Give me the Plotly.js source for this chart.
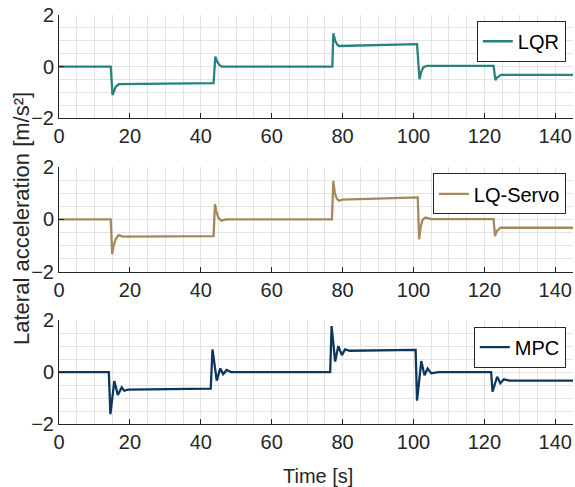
<!DOCTYPE html>
<html>
<head>
<meta charset="utf-8">
<script src="https://cdn.plot.ly/plotly-3.0.1.min.js"></script>
<style>html,body{margin:0;padding:0;background:#fff;}#chart{width:575px;height:487px;}</style>
</head>
<body>
<div id="chart"></div>
<script>
// Time samples and values
var lqrT = [0, 14.6, 15.1, 15.5, 16.0, 16.9, 43.6, 44.1, 44.6, 45.2, 45.9, 77.1, 77.4, 77.9, 78.5, 79.0, 101.0, 101.7, 102.2, 102.8, 103.8, 122.6, 123.1, 123.6, 124.7, 145];
var lqrV = [0, 0, -1.1, -0.95, -0.78, -0.68, -0.64, 0.39, 0.2, 0.07, 0, 0, 1.29, 1.0, 0.85, 0.80, 0.87, -0.49, -0.2, -0.02, 0.03, 0.03, -0.52, -0.42, -0.32, -0.32];

var servoT = [0, 14.6, 15.0, 15.4, 16.0, 16.8, 18, 43.6, 44.0, 44.4, 45.0, 45.8, 47, 77.0, 77.4, 77.8, 78.4, 79.0, 80, 101.2, 101.6, 102.0, 102.6, 103.4, 105, 122.6, 123.0, 123.5, 124.5, 145];
var servoV = [0, 0, -1.32, -1.0, -0.75, -0.6, -0.66, -0.64, 0.58, 0.3, 0.05, -0.05, 0, 0, 1.47, 1.0, 0.78, 0.71, 0.75, 0.84, -0.76, -0.3, 0.0, 0.07, 0.01, 0.01, -0.64, -0.45, -0.32, -0.32];

var mpcT = [0, 14.05, 14.5, 15.6, 16.6, 17.7, 18.4, 19.5, 42.8, 43.3, 44.5, 45.5, 46.3, 47.3, 48.5, 76.5, 76.9, 77.9, 78.8, 79.8, 80.7, 82, 100.6, 101.0, 102.2, 103.1, 104, 105, 107, 121.9, 122.3, 123.6, 124.5, 125.5, 127, 145];
var mpcV = [0, 0, -1.62, -0.35, -0.88, -0.59, -0.72, -0.68, -0.64, 0.87, -0.33, 0.14, -0.08, 0.08, 0, 0, 1.77, 0.40, 1.0, 0.65, 0.87, 0.82, 0.85, -1.10, 0.42, -0.12, 0.14, -0.05, 0, 0, -0.76, -0.18, -0.43, -0.28, -0.33, -0.33];

var seriesNames = ['LQR', 'LQ-Servo', 'MPC'];
var xTicks = [0, 20, 40, 60, 80, 100, 120, 140];
var yTicks = [-2, 0, 2];
var yAxisTitle = 'Lateral acceleration [m/s²]';
var xAxisTitle = 'Time [s]';

var colors = ['#26837d', '#a6885a', '#0c3860'];
var FONT = 'Liberation Sans, Arial, Helvetica, sans-serif';
var axisCol = '#262626';
var gridCol = '#e3e3e3';

var traces = [
  {x: lqrT, y: lqrV, name: seriesNames[0], type: 'scatter', mode: 'lines', line: {color: colors[0], width: 2.3}, xaxis: 'x', yaxis: 'y', legend: 'legend'},
  {x: servoT, y: servoV, name: seriesNames[1], type: 'scatter', mode: 'lines', line: {color: colors[1], width: 2.3}, xaxis: 'x2', yaxis: 'y2', legend: 'legend2'},
  {x: mpcT, y: mpcV, name: seriesNames[2], type: 'scatter', mode: 'lines', line: {color: colors[2], width: 2.3}, xaxis: 'x3', yaxis: 'y3', legend: 'legend3'}
];

function xa(anchor) {
  return {
    anchor: anchor, domain: [0, 1], range: [0, 145], tickvals: xTicks,
    ticks: 'inside', ticklen: 5, tickcolor: axisCol, tickwidth: 1,
    showline: true, linecolor: axisCol, linewidth: 1, mirror: false,
    showgrid: true, gridcolor: gridCol, gridwidth: 1, zeroline: false,
    minor: {dtick: 5, showgrid: true, gridcolor: gridCol, gridwidth: 1, ticks: ''},
    tickfont: {family: FONT, size: 20, color: axisCol}
  };
}
function ya(anchor, dom) {
  return {
    anchor: anchor, domain: dom, range: [-2, 2], tickvals: yTicks,
    ticks: 'inside', ticklen: 5, tickcolor: axisCol, tickwidth: 1,
    showline: true, linecolor: axisCol, linewidth: 1, mirror: false,
    showgrid: true, gridcolor: gridCol, gridwidth: 1, zeroline: false,
    minor: {dtick: 0.5, showgrid: true, gridcolor: gridCol, gridwidth: 1, ticks: ''},
    tickfont: {family: FONT, size: 20, color: axisCol}
  };
}
function lg(yTop) {
  return {
    x: 0.986, y: yTop, xanchor: 'right', yanchor: 'top', xref: 'paper', yref: 'paper',
    bgcolor: '#ffffff', bordercolor: axisCol, borderwidth: 1,
    font: {family: FONT, size: 20, color: '#000000'},
    itemwidth: 30, tracegroupgap: 0
  };
}

var layout = {
  width: 575, height: 487,
  margin: {l: 59, r: 2, t: 15, b: 63},
  paper_bgcolor: '#ffffff', plot_bgcolor: '#ffffff',
  font: {family: FONT, size: 20, color: axisCol},
  showlegend: true,
  xaxis: xa('y'), yaxis: ya('x', [0.7476, 1]),
  xaxis2: xa('y2'), yaxis2: ya('x2', [0.3721, 0.6286]),
  xaxis3: xa('y3'), yaxis3: ya('x3', [0, 0.2541]),
  legend: lg(0.986), legend2: lg(0.613), legend3: lg(0.238),
  annotations: [
    {text: yAxisTitle, xref: 'paper', yref: 'paper', x: -0.072, y: 0.5037, textangle: -90,
     showarrow: false, xanchor: 'center', yanchor: 'middle', font: {family: FONT, size: 22, color: axisCol}},
    {text: xAxisTitle, xref: 'paper', yref: 'paper', x: 0.503, y: -0.127,
     showarrow: false, xanchor: 'center', yanchor: 'middle', font: {family: FONT, size: 20, color: axisCol}}
  ]
};

Plotly.newPlot('chart', traces, layout, {staticPlot: true, displayModeBar: false});
</script>
</body>
</html>
